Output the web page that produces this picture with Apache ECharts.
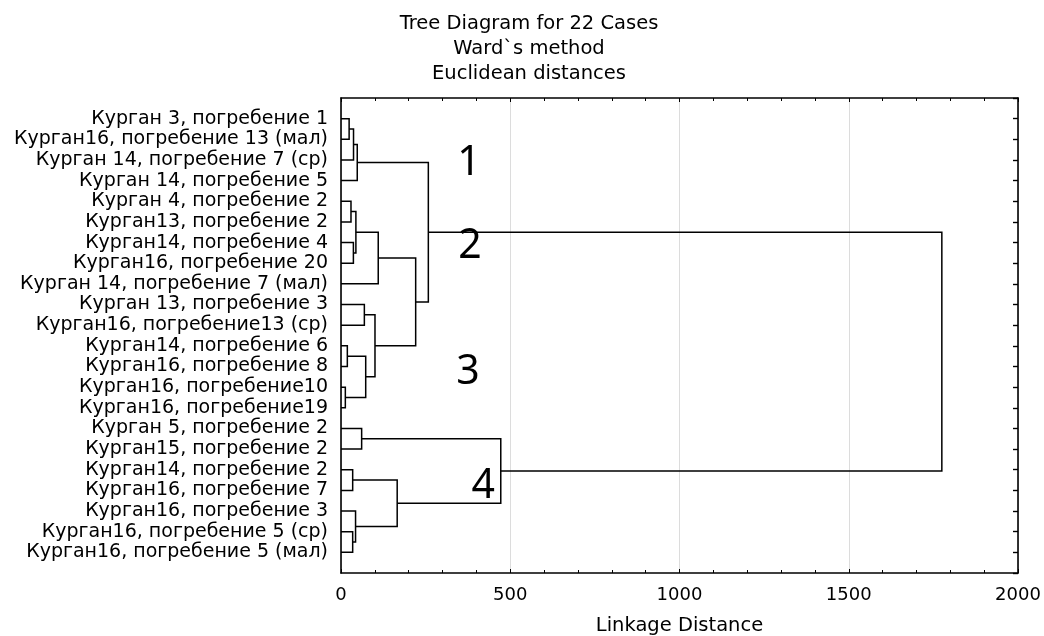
<!DOCTYPE html>
<html>
<head>
<meta charset="utf-8">
<script src="https://cdn.jsdelivr.net/npm/echarts@6/dist/echarts.min.js"></script>
<style>
html,body{margin:0;padding:0;background:#fff;}
#chart{width:1044px;height:636px;}
</style>
</head>
<body>
<div id="chart"></div>
<script>
// Leaf labels (top to bottom)
const leaves = [
  'Курган 3, погребение 1',
  'Курган16, погребение 13 (мал)',
  'Курган 14, погребение 7 (ср)',
  'Курган 14, погребение 5',
  'Курган 4, погребение 2',
  'Курган13, погребение 2',
  'Курган14, погребение 4',
  'Курган16, погребение 20',
  'Курган 14, погребение 7 (мал)',
  'Курган 13, погребение 3',
  'Курган16, погребение13 (ср)',
  'Курган14, погребение 6',
  'Курган16, погребение 8',
  'Курган16, погребение10',
  'Курган16, погребение19',
  'Курган 5, погребение 2',
  'Курган15, погребение 2',
  'Курган14, погребение 2',
  'Курган16, погребение 7',
  'Курган16, погребение 3',
  'Курган16, погребение 5 (ср)',
  'Курган16, погребение 5 (мал)'
];
// Merge steps: children (leaf index 0..21, clusters 22+ in order) and linkage distance
const mergeLeft  = [0, 22, 23, 4, 6, 25, 27, 9, 11, 13, 30, 29, 28, 24, 15, 17, 20, 19, 37, 36, 35];
const mergeRight = [1, 2, 3, 5, 7, 26, 8, 10, 12, 14, 31, 32, 33, 34, 16, 18, 21, 38, 39, 40, 41];
const mergeDist  = [24, 37, 48, 29.5, 36.6, 44, 110, 69, 18.7, 12.8, 73, 100.4, 220.6, 258, 61, 34.5, 34.5, 43, 166, 472, 1775];

const titleLines = ['Tree Diagram for 22 Cases', 'Ward`s method', 'Euclidean distances'];
const xTicks = [0, 500, 1000, 1500, 2000];
const groupNames = ['1', '2', '3', '4'];
const groupX = [378, 381, 375, 420];
const groupY = [3.15, 7.17, 13.27, 18.8];

// node positions (data space)
const nodeX = leaves.map(() => 0);
const nodeY = leaves.map((_, i) => i + 1);
const segs = [];
for (let i = 0; i < mergeDist.length; i++) {
  const a = mergeLeft[i], b = mergeRight[i], h = mergeDist[i];
  segs.push([nodeX[a], nodeY[a], nodeX[b], nodeY[b], h]);
  nodeX.push(h);
  nodeY.push((nodeY[a] + nodeY[b]) / 2);
}

const chart = echarts.init(document.getElementById('chart'));
const font = 'DejaVu Sans';
const axisLineStyle = { color: '#000', width: 1.6 };

chart.setOption({
  animation: false,
  backgroundColor: '#fff',
  title: titleLines.map((t, i) => ({
    text: t,
    left: 524,
    textAlign: 'center',
    top: 9 + i * 25,
    textStyle: { fontFamily: font, fontSize: 19.5, fontWeight: 'normal', color: '#000' }
  })),
  grid: { left: 341, right: 26, top: 98, bottom: 63, containLabel: false, outerBoundsMode: 'none' },
  xAxis: [{
    type: 'value', min: 0, max: 2000, interval: 500, position: 'bottom',
    name: 'Linkage Distance', nameLocation: 'middle', nameGap: 43,
    nameTextStyle: { fontFamily: font, fontSize: 19.5, color: '#000' },
    axisLine: { show: true, onZero: false, lineStyle: axisLineStyle },
    axisTick: { show: true, inside: true, length: 4, lineStyle: { color: '#000' } },
    minorTick: { show: true, splitNumber: 5, length: 3, lineStyle: { color: '#000' } },
    axisLabel: { fontFamily: font, fontSize: 18, color: '#000', margin: 13,
      formatter: v => xTicks.indexOf(v) >= 0 ? String(v) : '' },
    splitLine: { show: true, lineStyle: { color: '#dcdcdc', width: 1 } }
  }, {
    type: 'value', min: 0, max: 2000, interval: 500, position: 'top',
    axisLine: { show: true, onZero: false, lineStyle: axisLineStyle },
    axisTick: { show: true, inside: true, length: 4, lineStyle: { color: '#000' } },
    minorTick: { show: true, splitNumber: 5, length: 3, lineStyle: { color: '#000' } },
    axisLabel: { show: false },
    splitLine: { show: false }
  }],
  yAxis: [{
    type: 'value', min: 0, max: leaves.length + 1, interval: 1, inverse: true, position: 'left',
    axisLine: { show: true, onZero: false, lineStyle: axisLineStyle },
    axisTick: { show: false },
    axisLabel: { fontFamily: font, fontSize: 19, color: '#000', margin: 13,
      formatter: v => leaves[v - 1] || '' },
    splitLine: { show: false }
  }, {
    type: 'value', min: 0, max: leaves.length + 1, interval: 1, inverse: true, position: 'right',
    axisLine: { show: true, onZero: false, lineStyle: axisLineStyle },
    axisTick: { show: true, inside: true, length: 5, lineStyle: { color: '#000', width: 1.4 } },
    axisLabel: { show: false },
    splitLine: { show: false }
  }],
  series: [{
    type: 'custom',
    xAxisIndex: 0, yAxisIndex: 0,
    data: segs,
    encode: { x: [0, 2, 4], y: [1, 3] },
    renderItem: function (params, api) {
      const xa = api.value(0), ya = api.value(1), xb = api.value(2), yb = api.value(3), h = api.value(4);
      const pts = [api.coord([xa, ya]), api.coord([h, ya]), api.coord([h, yb]), api.coord([xb, yb])];
      return {
        type: 'polyline',
        shape: { points: pts },
        style: { stroke: '#000', lineWidth: 1.5, fill: null }
      };
    },
    z: 3
  }, {
    type: 'scatter',
    xAxisIndex: 0, yAxisIndex: 0,
    symbolSize: 0,
    itemStyle: { opacity: 1 },
    data: groupNames.map((n, i) => ({ value: [groupX[i], groupY[i]], name: n })),
    label: {
      show: true, position: 'inside', formatter: p => p.name,
      fontFamily: 'Noto Sans', fontSize: 41, color: '#000', opacity: 1
    },
    silent: true, z: 4
  }]
});
</script>
</body>
</html>
